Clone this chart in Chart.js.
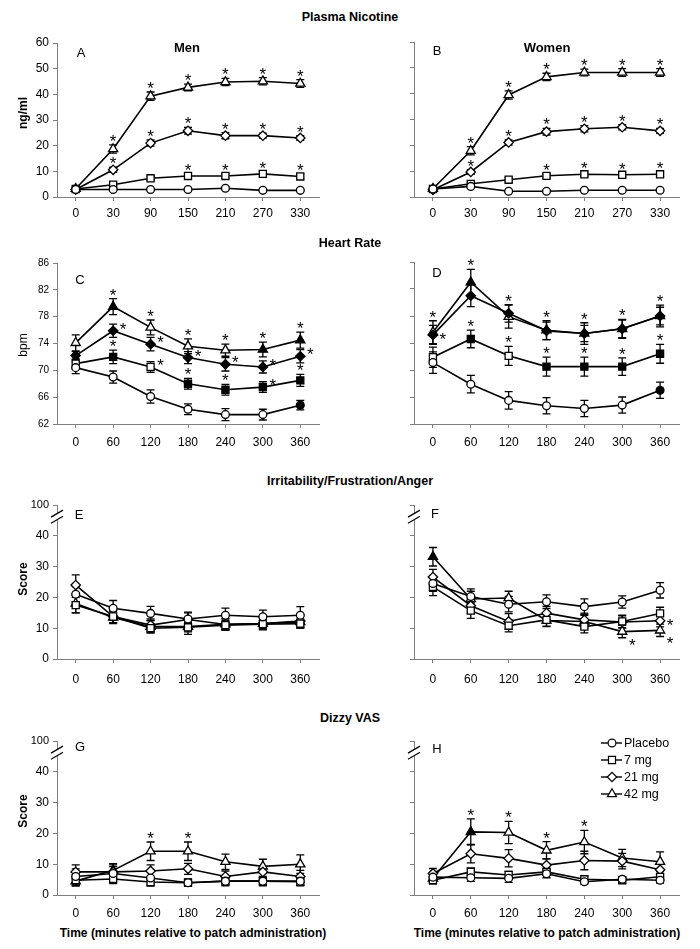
<!DOCTYPE html>
<html><head><meta charset="utf-8">
<script src="https://cdn.jsdelivr.net/npm/chart.js@4.4.1/dist/chart.umd.min.js"></script>
<style>
body{margin:0;background:#fff;width:700px;height:949px;position:relative;overflow:hidden;font-family:"Liberation Sans",Arial,sans-serif;}
canvas{position:absolute;}
.t{position:absolute;transform:translate(-50%,-50%);white-space:nowrap;color:#000;z-index:2;line-height:1;}
.b{font-weight:bold;}
.rot{transform:translate(-50%,-50%) rotate(-90deg);}
</style></head><body>
<div class="t b" style="left:350px;top:17px;font-size:12.5px">Plasma Nicotine</div>
<div class="t b" style="left:187px;top:47px;font-size:13px">Men</div>
<div class="t b" style="left:547px;top:47px;font-size:13px">Women</div>
<div class="t" style="left:81px;top:52px;font-size:13px">A</div>
<div class="t" style="left:437px;top:50px;font-size:13px">B</div>
<div class="t b rot" style="left:23px;top:113px;font-size:12px">ng/ml</div>
<div class="t b" style="left:350px;top:243px;font-size:12.5px">Heart Rate</div>
<div class="t" style="left:80px;top:279px;font-size:13px">C</div>
<div class="t" style="left:437px;top:272px;font-size:13px">D</div>
<div class="t rot" style="left:23px;top:345px;font-size:12px">bpm</div>
<div class="t b" style="left:350px;top:481px;font-size:12.5px">Irritability/Frustration/Anger</div>
<div class="t" style="left:79px;top:514px;font-size:13px">E</div>
<div class="t" style="left:435px;top:513px;font-size:13px">F</div>
<div class="t b rot" style="left:23px;top:579px;font-size:12px">Score</div>
<div class="t b" style="left:350px;top:718px;font-size:12.5px">Dizzy VAS</div>
<div class="t" style="left:80px;top:746px;font-size:13px">G</div>
<div class="t" style="left:437px;top:748px;font-size:13px">H</div>
<div class="t b rot" style="left:23px;top:811px;font-size:12px">Score</div>
<div class="t b" style="left:193px;top:933px;font-size:12px">Time (minutes relative to patch administration)</div>
<div class="t b" style="left:547px;top:933px;font-size:12px">Time (minutes relative to patch administration)</div>
<script>
// ---------- categories ----------
const nicTimes = ['0','30','90','150','210','270','330'];
const hrTimes  = ['0','60','120','180','240','300','360'];
const doseNames = ['Placebo','7 mg','21 mg','42 mg'];

// ---------- A: plasma nicotine, men (ng/ml) ----------
const A_placebo = [2.9, 2.9, 2.9, 2.9, 3.4, 2.6, 2.6];
const A_7mg     = [3.1, 4.8, 7.3, 8.2, 8.2, 9.0, 8.0];
const A_21mg    = [2.9, 10.6, 21.0, 25.8, 23.9, 23.9, 23.0];
const A_42mg    = [3.2, 18.7, 39.3, 42.7, 44.8, 45.1, 44.2];
const A_placebo_se = [0.4, 0.4, 0.4, 0.4, 0.5, 0.4, 0.4];
const A_7mg_se     = [0.4, 0.6, 0.7, 0.9, 0.9, 0.9, 0.9];
const A_21mg_se    = [0.4, 1.0, 1.2, 1.3, 1.2, 1.0, 0.9];
const A_42mg_se    = [0.5, 1.6, 1.6, 1.3, 1.4, 1.4, 1.5];
const A_7mg_sig  = [0,0,0,1,1,1,1];
const A_21mg_sig = [0,1,1,1,1,1,1];
const A_42mg_sig = [0,1,1,1,1,1,1];

// ---------- B: plasma nicotine, women ----------
const B_placebo = [3.1, 4.1, 2.2, 2.2, 2.6, 2.6, 2.6];
const B_7mg     = [3.1, 5.1, 6.7, 8.2, 8.8, 8.6, 8.8];
const B_21mg    = [2.8, 9.7, 21.1, 25.3, 26.4, 27.0, 25.6];
const B_42mg    = [3.2, 17.9, 39.5, 46.5, 48.2, 48.2, 48.2];
const B_placebo_se = [0.4, 0.5, 0.4, 0.4, 0.4, 0.4, 0.4];
const B_7mg_se     = [0.4, 0.6, 0.7, 0.8, 0.8, 0.8, 0.8];
const B_21mg_se    = [0.4, 0.9, 1.0, 1.3, 1.2, 1.0, 1.0];
const B_42mg_se    = [0.5, 1.6, 1.6, 1.4, 1.3, 1.5, 1.5];
const B_7mg_sig  = [0,0,0,1,1,1,1];
const B_21mg_sig = [0,1,1,1,1,1,1];
const B_42mg_sig = [0,1,1,1,1,1,1];

// ---------- C: heart rate, men (bpm) ----------
const C_placebo = [70.4, 69.0, 66.1, 64.2, 63.4, 63.4, 64.8];
const C_7mg     = [71.0, 72.0, 70.5, 68.0, 67.1, 67.5, 68.5];
const C_21mg    = [72.2, 75.9, 73.9, 71.9, 70.9, 70.5, 72.1];
const C_42mg    = [74.1, 79.5, 76.4, 73.6, 73.0, 73.1, 74.5];
const C_placebo_se = [0.9, 0.9, 1.0, 0.8, 0.9, 0.8, 0.7];
const C_7mg_se     = [0.7, 1.0, 0.8, 0.8, 0.8, 0.8, 0.9];
const C_21mg_se    = [0.6, 1.0, 1.0, 0.9, 1.0, 0.9, 1.0];
const C_42mg_se    = [1.2, 1.2, 1.1, 1.1, 0.9, 1.1, 1.2];
const C_placebo_fill = [0,0,0,0,0,0,1];
const C_7mg_fill     = [0,1,0,1,1,1,1];
const C_21mg_fill    = [1,1,1,1,1,1,1];
const C_42mg_fill    = [0,1,0,0,0,1,1];
const C_7mg_sig  = [0,1,2,1,1,2,1];
const C_21mg_sig = [0,2,2,2,2,2,2];
const C_42mg_sig = [0,1,1,1,1,1,1];

// ---------- D: heart rate, women ----------
const D_placebo = [71.1, 67.9, 65.5, 64.7, 64.3, 64.8, 67.0];
const D_7mg     = [71.9, 74.6, 72.1, 70.5, 70.5, 70.5, 72.4];
const D_21mg    = [75.2, 81.0, 78.4, 75.8, 75.4, 76.1, 78.0];
const D_42mg    = [75.6, 83.0, 77.9, 75.9, 75.4, 76.1, 78.0];
const D_placebo_se = [1.6, 1.3, 1.3, 1.2, 1.2, 1.2, 1.2];
const D_7mg_se     = [1.5, 1.3, 1.4, 1.4, 1.4, 1.3, 1.4];
const D_21mg_se    = [1.4, 1.6, 1.3, 1.3, 1.2, 1.3, 1.3];
const D_42mg_se    = [1.7, 1.9, 1.7, 1.4, 1.6, 1.4, 1.6];
const D_placebo_fill = [0,0,0,0,0,0,1];
const D_7mg_fill     = [0,1,0,1,1,1,1];
const D_21mg_fill    = [1,1,1,1,1,1,1];
const D_42mg_fill    = [0,1,0,1,0,1,1];
const D_7mg_sig  = [0,1,1,1,1,1,1];
const D_21mg_sig = [3,0,0,0,0,0,0];
const D_42mg_sig = [1,1,1,1,1,1,1];

// ---------- E: irritability, men (score) ----------
const E_placebo = [21.0, 16.5, 14.8, 13.0, 14.2, 13.7, 14.2];
const E_7mg     = [17.5, 13.8, 10.0, 10.3, 11.0, 11.3, 11.5];
const E_21mg    = [24.0, 13.8, 11.0, 12.8, 11.2, 11.5, 12.3];
const E_42mg    = [18.0, 13.5, 10.5, 10.5, 11.3, 11.5, 12.0];
const E_placebo_se = [2.5, 2.5, 2.3, 2.2, 2.3, 2.2, 2.8];
const E_7mg_se     = [2.5, 2.0, 1.5, 1.5, 1.5, 1.5, 1.5];
const E_21mg_se    = [3.3, 2.0, 2.0, 2.2, 1.8, 1.8, 2.0];
const E_42mg_se    = [3.0, 2.0, 2.0, 2.5, 1.8, 2.0, 2.0];

// ---------- F: irritability, women ----------
const F_placebo = [24.5, 20.3, 17.8, 18.6, 17.0, 18.5, 22.3];
const F_7mg     = [23.4, 15.7, 10.8, 12.7, 10.5, 12.2, 14.8];
const F_21mg    = [26.6, 17.3, 12.2, 14.9, 12.7, 12.0, 12.4];
const F_42mg    = [33.2, 19.5, 19.8, 12.5, 12.2, 8.9, 9.3];
const F_placebo_se = [2.5, 2.5, 2.5, 2.2, 2.5, 2.0, 2.5];
const F_7mg_se     = [2.8, 2.5, 2.0, 2.0, 2.0, 2.0, 2.0];
const F_21mg_se    = [2.5, 2.5, 2.5, 2.2, 2.2, 2.0, 2.0];
const F_42mg_se    = [3.0, 2.5, 2.2, 2.0, 2.0, 2.0, 2.0];
const F_42mg_fill  = [1,0,0,0,1,0,0];
const F_21mg_sig = [0,0,0,0,0,0,3];
const F_42mg_sig = [0,0,0,0,0,4,4];

// ---------- G: dizzy VAS, men ----------
const G_placebo = [6.0, 7.0, 5.5, 4.0, 4.5, 4.5, 4.5];
const G_7mg     = [4.8, 5.2, 4.2, 4.0, 4.5, 4.5, 4.3];
const G_21mg    = [7.5, 7.5, 7.8, 8.5, 6.0, 7.5, 6.0];
const G_42mg    = [4.5, 8.0, 14.2, 14.2, 10.8, 9.3, 10.0];
const G_placebo_se = [2.5, 2.2, 2.0, 1.2, 1.5, 1.5, 1.5];
const G_7mg_se     = [1.8, 1.5, 1.3, 1.0, 1.2, 1.2, 1.2];
const G_21mg_se    = [2.3, 2.3, 2.0, 1.8, 1.8, 1.8, 2.0];
const G_42mg_se    = [1.5, 2.2, 3.0, 3.0, 2.5, 2.3, 3.0];
const G_42mg_fill  = [0,1,0,0,0,0,0];
const G_42mg_sig = [0,0,1,1,0,0,0];

// ---------- H: dizzy VAS, women ----------
const H_placebo = [5.8, 5.6, 5.4, 6.9, 4.3, 5.1, 4.8];
const H_7mg     = [4.8, 7.5, 6.5, 7.5, 5.1, 4.8, 5.9];
const H_21mg    = [7.0, 13.4, 11.9, 9.7, 11.2, 11.0, 8.2];
const H_42mg    = [5.4, 20.5, 20.3, 14.5, 17.2, 12.0, 10.8];
const H_placebo_se = [1.5, 1.2, 1.3, 1.3, 0.8, 0.8, 0.9];
const H_7mg_se     = [1.2, 1.3, 1.2, 1.2, 1.0, 1.0, 1.0];
const H_21mg_se    = [1.6, 3.0, 2.8, 2.0, 3.0, 2.5, 2.0];
const H_42mg_se    = [1.4, 4.2, 3.6, 2.8, 3.8, 2.8, 3.2];
const H_42mg_fill  = [0,1,0,0,0,0,0];
const H_42mg_sig = [0,1,1,1,1,0,0];

// ---------- y axis tick settings ----------
const nicTicks = {min:0, max:60, step:10};
const hrTicks  = {min:62, max:86, step:4};
const scoreTicks = {min:0, max:50, step:10}; // top tick labelled 100 (broken axis)

// ---------- drawing helpers ----------
const FONT = '"Liberation Sans", Arial, sans-serif';
const STYLES = [
  {pointStyle:'circle', radius:3.9},
  {pointStyle:'rect', radius:5.0},
  {pointStyle:'rectRot', radius:4.7},
  {pointStyle:'triangle', radius:5.3}
];
function ds(i, data, err, sig, filled) {
  return {
    label: doseNames[i], data: data, err: err, sig: sig || null,
    borderColor:'#000', borderWidth:1.6, tension:0, fill:false, clip:false,
    pointStyle: STYLES[i].pointStyle, pointRadius: STYLES[i].radius, pointHoverRadius: STYLES[i].radius,
    pointBorderColor:'#000', pointBorderWidth:1.3,
    pointBackgroundColor: data.map((_, k) => (filled && filled[k]) ? '#000' : '#fff')
  };
}

const errStarPlugin = {
  id:'errStar',
  beforeDatasetsDraw(chart) {
    const ctx = chart.ctx, ys = chart.scales.y;
    chart.data.datasets.forEach((d, i) => {
      if (!d.err) return;
      const meta = chart.getDatasetMeta(i);
      ctx.save(); ctx.strokeStyle = '#000'; ctx.lineWidth = 1.3;
      meta.data.forEach((pt, k) => {
        const v = d.data[k], e = d.err[k];
        const yt = ys.getPixelForValue(v + e), yb = ys.getPixelForValue(v - e), x = pt.x;
        ctx.beginPath();
        ctx.moveTo(x, yt); ctx.lineTo(x, yb);
        ctx.moveTo(x - 4, yt); ctx.lineTo(x + 4, yt);
        ctx.moveTo(x - 4, yb); ctx.lineTo(x + 4, yb);
        ctx.stroke();
      });
      ctx.restore();
    });
  },
  afterDatasetsDraw(chart) {
    const ctx = chart.ctx, ys = chart.scales.y;
    ctx.save();
    ctx.fillStyle = '#000'; ctx.font = '17px ' + FONT;
    ctx.textAlign = 'center'; ctx.textBaseline = 'alphabetic';
    chart.data.datasets.forEach((d, i) => {
      if (!d.sig) return;
      const meta = chart.getDatasetMeta(i);
      meta.data.forEach((pt, k) => {
        const s = d.sig[k]; if (!s) return;
        const v = d.data[k], e = d.err ? d.err[k] : 0;
        let cx = pt.x, cy = pt.y;
        if (s === 1) { cy = ys.getPixelForValue(v + e) - 8; }
        else if (s === 2) { cx = pt.x + 10; cy = pt.y - 6; }
        else if (s === 3) { cx = pt.x + 10; cy = pt.y; }
        else if (s === 4) { cx = pt.x + 10; cy = pt.y + 9; }
        ctx.fillText('*', cx, cy + 10);
      });
    });
    ctx.restore();
  }
};

const breakPlugin = {
  id:'axisBreak',
  afterDraw(chart, args, opts) {
    if (!opts.on) return;
    const ctx = chart.ctx, ys = chart.scales.y, x0 = chart.chartArea.left;
    const y1 = ys.getPixelForValue(47.2), y2 = ys.getPixelForValue(45.2);
    ctx.save();
    ctx.fillStyle = '#fff';
    ctx.beginPath();
    ctx.moveTo(x0 - 6, y1 + 3); ctx.lineTo(x0 + 6, y1 - 3);
    ctx.lineTo(x0 + 6, y2 - 3); ctx.lineTo(x0 - 6, y2 + 3); ctx.closePath();
    ctx.fill();
    ctx.strokeStyle = '#000'; ctx.lineWidth = 1.2;
    ctx.beginPath();
    ctx.moveTo(x0 - 6, y1 + 3.5); ctx.lineTo(x0 + 6, y1 - 3.5);
    ctx.moveTo(x0 - 6, y2 + 3.5); ctx.lineTo(x0 + 6, y2 - 3.5);
    ctx.stroke();
    ctx.restore();
  }
};

const legendPlugin = {
  id:'doseLegend',
  afterDraw(chart, args, opts) {
    if (!opts.on) return;
    const ctx = chart.ctx;
    const x0 = opts.x, ys = opts.ys;
    ctx.save();
    chart.data.datasets.forEach((d, i) => {
      const y = ys[i];
      ctx.strokeStyle = '#000'; ctx.lineWidth = 1.4;
      ctx.beginPath(); ctx.moveTo(x0, y); ctx.lineTo(x0 + 21, y); ctx.stroke();
      ctx.fillStyle = '#fff'; ctx.strokeStyle = '#000'; ctx.lineWidth = 1.2;
      Chart.helpers.drawPoint(ctx, {pointStyle: STYLES[i].pointStyle, radius: STYLES[i].radius, rotation:0, borderWidth:1.2}, x0 + 11, y);
      ctx.fillStyle = '#000'; ctx.font = '12.5px ' + FONT;
      ctx.textAlign = 'left'; ctx.textBaseline = 'middle';
      ctx.fillText(d.label, x0 + 23, y + 1);
    });
    ctx.restore();
  }
};

function panel(box, plot, labels, datasets, yt, o) {
  const c = document.createElement('canvas');
  c.width = box.w; c.height = box.h;
  c.style.left = box.l + 'px'; c.style.top = box.t + 'px';
  c.style.width = box.w + 'px'; c.style.height = box.h + 'px';
  document.body.appendChild(c);
  const yw = plot.l - box.l, xh = box.t + box.h - plot.b;
  new Chart(c.getContext('2d'), {
    type:'line',
    data:{labels: labels, datasets: datasets},
    options:{
      responsive:false, animation:false, devicePixelRatio:1, events:[],
      layout:{padding:{left:0, top: plot.t - box.t, right: box.l + box.w - plot.r, bottom:0}},
      plugins:{
        legend:{display:false}, tooltip:{enabled:false},
        axisBreak:{on: !!o.broken},
        doseLegend: o.legend ? Object.assign({on:true}, o.legend) : {on:false}
      },
      scales:{
        x:{
          type:'category', offset:true,
          grid:{display:true, drawOnChartArea:false, drawTicks:true, tickLength:4, color:'#7f7f7f', offset:false},
          border:{display:true, color:'#7f7f7f', width:1},
          ticks:{font:{family:FONT, size:12}, color:'#000', padding:o.xpad, maxRotation:0, autoSkip:false},
          afterFit(s){ s.height = xh; }
        },
        y:{
          min: yt.min, max: yt.max,
          grid:{display:true, drawOnChartArea:false, drawTicks:true, tickLength:4, color:'#7f7f7f'},
          border:{display:true, color:'#7f7f7f', width:1},
          ticks:{
            stepSize: yt.step, autoSkip:false, color:'#000', padding:4,
            font:(ctx) => ({family:FONT, size: (o.broken && ctx.tick && ctx.tick.value === 50) ? 11 : o.yfs}),
            callback:(v) => o.noYLabels ? '' : (o.broken && v === 50 ? '100' : v)
          },
          afterFit(s){ s.width = yw; }
        }
      }
    },
    plugins:[errStarPlugin, breakPlugin, legendPlugin]
  });
}

const LB = {l:0, w:340}, RB = {l:340, w:360};
const LP = {l:57, r:319}, RP = {l:414, r:679};

// A, B
panel({l:LB.l, w:LB.w, t:25, h:205}, {l:LP.l, r:LP.r, t:43, b:197}, nicTimes, [
  ds(0, A_placebo, A_placebo_se, null, null),
  ds(1, A_7mg, A_7mg_se, A_7mg_sig, null),
  ds(2, A_21mg, A_21mg_se, A_21mg_sig, null),
  ds(3, A_42mg, A_42mg_se, A_42mg_sig, null)
], nicTicks, {yfs:12, xpad:5});
panel({l:RB.l, w:RB.w, t:25, h:205}, {l:RP.l, r:RP.r, t:42, b:197}, nicTimes, [
  ds(0, B_placebo, B_placebo_se, null, null),
  ds(1, B_7mg, B_7mg_se, B_7mg_sig, null),
  ds(2, B_21mg, B_21mg_se, B_21mg_sig, null),
  ds(3, B_42mg, B_42mg_se, B_42mg_sig, null)
], nicTicks, {yfs:12, xpad:5, noYLabels:true});

// C, D
panel({l:LB.l, w:LB.w, t:248, h:205}, {l:LP.l, r:LP.r, t:263, b:424}, hrTimes, [
  ds(0, C_placebo, C_placebo_se, null, C_placebo_fill),
  ds(1, C_7mg, C_7mg_se, C_7mg_sig, C_7mg_fill),
  ds(2, C_21mg, C_21mg_se, C_21mg_sig, C_21mg_fill),
  ds(3, C_42mg, C_42mg_se, C_42mg_sig, C_42mg_fill)
], hrTicks, {yfs:10, xpad:7});
panel({l:RB.l, w:RB.w, t:248, h:205}, {l:RP.l, r:RP.r, t:262, b:424}, hrTimes, [
  ds(0, D_placebo, D_placebo_se, null, D_placebo_fill),
  ds(1, D_7mg, D_7mg_se, D_7mg_sig, D_7mg_fill),
  ds(2, D_21mg, D_21mg_se, D_21mg_sig, D_21mg_fill),
  ds(3, D_42mg, D_42mg_se, D_42mg_sig, D_42mg_fill)
], hrTicks, {yfs:10, xpad:7, noYLabels:true});

// E, F
panel({l:LB.l, w:LB.w, t:490, h:200}, {l:LP.l, r:LP.r, t:505, b:659}, hrTimes, [
  ds(0, E_placebo, E_placebo_se, null, null),
  ds(1, E_7mg, E_7mg_se, null, null),
  ds(2, E_21mg, E_21mg_se, null, null),
  ds(3, E_42mg, E_42mg_se, null, null)
], scoreTicks, {yfs:12, xpad:9, broken:true});
panel({l:RB.l, w:RB.w, t:490, h:200}, {l:RP.l, r:RP.r, t:505, b:659}, hrTimes, [
  ds(0, F_placebo, F_placebo_se, null, null),
  ds(1, F_7mg, F_7mg_se, null, null),
  ds(2, F_21mg, F_21mg_se, F_21mg_sig, null),
  ds(3, F_42mg, F_42mg_se, F_42mg_sig, F_42mg_fill)
], scoreTicks, {yfs:12, xpad:9, broken:true, noYLabels:true});

// G, H
panel({l:LB.l, w:LB.w, t:725, h:200}, {l:LP.l, r:LP.r, t:741, b:895}, hrTimes, [
  ds(0, G_placebo, G_placebo_se, null, null),
  ds(1, G_7mg, G_7mg_se, null, null),
  ds(2, G_21mg, G_21mg_se, null, null),
  ds(3, G_42mg, G_42mg_se, G_42mg_sig, G_42mg_fill)
], scoreTicks, {yfs:12, xpad:7, broken:true});
panel({l:RB.l, w:RB.w, t:725, h:200}, {l:RP.l, r:RP.r, t:741, b:895}, hrTimes, [
  ds(0, H_placebo, H_placebo_se, null, null),
  ds(1, H_7mg, H_7mg_se, null, null),
  ds(2, H_21mg, H_21mg_se, null, null),
  ds(3, H_42mg, H_42mg_se, H_42mg_sig, H_42mg_fill)
], scoreTicks, {yfs:12, xpad:7, broken:true, noYLabels:true, legend:{x:261, ys:[18, 35, 52, 69]}});
</script>
</body></html>
